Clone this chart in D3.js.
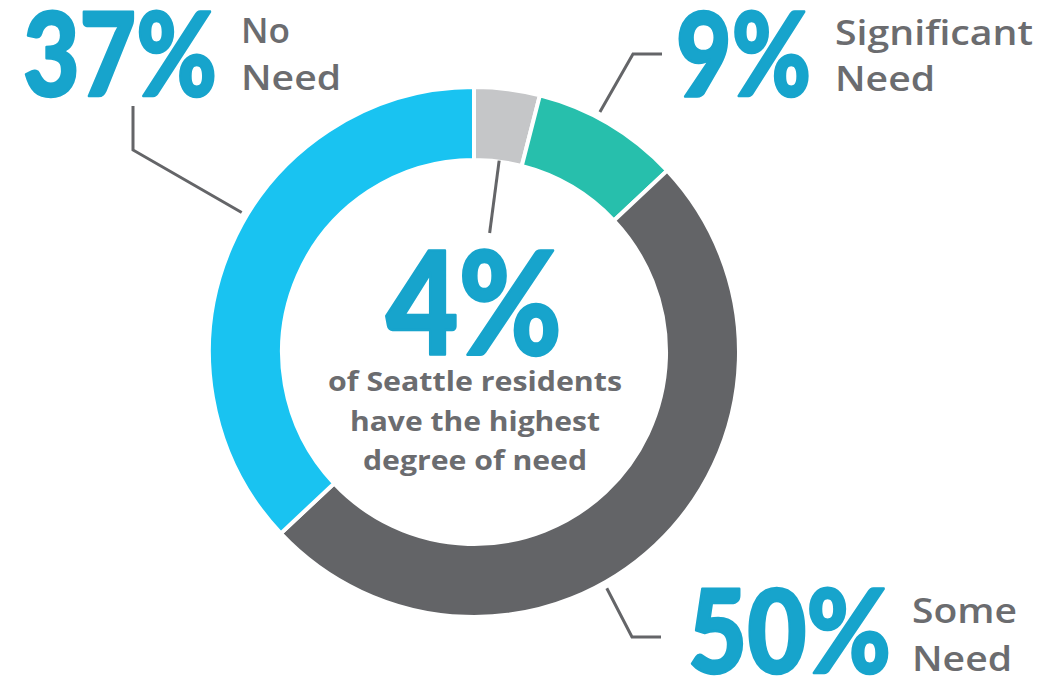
<!DOCTYPE html>
<html>
<head>
<meta charset="utf-8">
<script src="https://cdn.jsdelivr.net/npm/d3@7"></script>
<style>
  html, body { margin: 0; padding: 0; background: #ffffff; }
  svg { display: block; }
</style>
</head>
<body>
<svg id="chart" width="1063" height="676"></svg>
<script>
// Degree of need among Seattle residents (share of residents, %)
const categories = ["Highest Need", "Significant Need", "Some Need", "No Need"];
const values = [4, 9, 50, 37];
const shortLabels = [null, ["Significant", "Need"], ["Some", "Need"], ["No", "Need"]];
const centerLines = ["of Seattle residents", "have the highest", "degree of need"];
const sliceColors = ["#c5c6c8", "#27bfac", "#636467", "#19c3f1"];

const svg = d3.select("#chart");
const cx = 474, cy = 352;
const outerR = 265, innerR = 192;

const accent = "#17a4cc";
const textGrey = "#6b6c6f";
const lineGrey = "#646568";

const pie = d3.pie().sort(null).value(d => d);
const arcs = pie(values);
const arc = d3.arc().innerRadius(innerR).outerRadius(outerR);

const g = svg.append("g").attr("transform", `translate(${cx},${cy})`);

g.selectAll("path.slice")
  .data(arcs)
  .join("path")
  .attr("class", "slice")
  .attr("d", arc)
  .attr("fill", (d, i) => sliceColors[i])
  .attr("stroke", "#ffffff")
  .attr("stroke-width", 4)
  .attr("stroke-linejoin", "miter");

// point on a circle of radius r, angle measured clockwise from 12 o'clock
const polar = (angle, r) => [Math.sin(angle) * r, -Math.cos(angle) * r];

// leader lines: start near each slice, then elbow out to its label
const leaders = [
  { i: 0, startFrac: 0.52, r0: innerR + 1, r1: 120, elbows: [] },
  { i: 1, startFrac: 0.41, r0: outerR + 6, elbows: [[633 - cx, 54 - cy], [662 - cx, 54 - cy]] },
  { i: 2, startFrac: 0.577, r0: outerR + 6, elbows: [[632 - cx, 637 - cy], [661 - cx, 637 - cy]] },
  { i: 3, startFrac: 0.557, r0: outerR + 6, elbows: [[133 - cx, 150 - cy], [133 - cx, 106 - cy]] }
];

const line = d3.line();
leaders.forEach(L => {
  const a = arcs[L.i];
  const ang = a.startAngle + (a.endAngle - a.startAngle) * L.startFrac;
  const pts = [polar(ang, L.r0)];
  if (L.r1) pts.push(polar(ang, L.r1));
  L.elbows.forEach(p => pts.push(p));
  g.append("path")
    .attr("d", line(pts))
    .attr("fill", "none")
    .attr("stroke", lineGrey)
    .attr("stroke-width", 3)
    .attr("stroke-linejoin", "miter");
});

// big percentage figures, squeezed horizontally to a set width
const bigFont = "Lato, 'Open Sans', sans-serif";
const figures = [
  { i: 0, x: 386, y: 355, w: 176, size: 144 },
  { i: 1, x: 676, y: 96, w: 135, size: 116 },
  { i: 2, x: 688, y: 673, w: 203, size: 116 },
  { i: 3, x: 23, y: 96, w: 194, size: 116 }
];
figures.forEach(f => {
  const t = svg.append("text")
    .attr("x", 0)
    .attr("y", 0)
    .attr("font-family", bigFont)
    .attr("font-weight", 900)
    .attr("font-size", f.size)
    .attr("fill", accent)
    .attr("stroke", accent)
    .attr("stroke-width", 2.5)
    .attr("stroke-linejoin", "round")
    .text(values[f.i] + "%");
  const natural = t.node().getComputedTextLength();
  t.attr("transform", `translate(${f.x},${f.y}) scale(${f.w / natural},1)`);
});

// category labels beside each figure
const labelFont = "'Open Sans', Lato, sans-serif";
const labelPos = [
  null,
  { x: 835, y: [45, 91], w: [198, 100] },
  { x: 912, y: [623, 671], w: [105, 100] },
  { x: 241, y: [43, 90], w: [49, 100] }
];
shortLabels.forEach((lines, i) => {
  if (!lines) return;
  const p = labelPos[i];
  lines.forEach((t, k) => {
    svg.append("text")
      .attr("x", p.x)
      .attr("y", p.y[k])
      .attr("font-family", labelFont)
      .attr("font-weight", 600)
      .attr("font-size", 35)
      .attr("fill", textGrey)
      .attr("textLength", p.w[k])
      .attr("lengthAdjust", "spacingAndGlyphs")
      .text(t);
  });
});

// caption inside the ring
const captionY = [391, 431, 470];
const captionW = [294, 250, 224];
centerLines.forEach((t, k) => {
  svg.append("text")
    .attr("x", 475)
    .attr("y", captionY[k])
    .attr("text-anchor", "middle")
    .attr("font-family", labelFont)
    .attr("font-weight", 700)
    .attr("font-size", 26)
    .attr("fill", textGrey)
    .attr("textLength", captionW[k])
    .attr("lengthAdjust", "spacingAndGlyphs")
    .text(t);
});
</script>
</body>
</html>
